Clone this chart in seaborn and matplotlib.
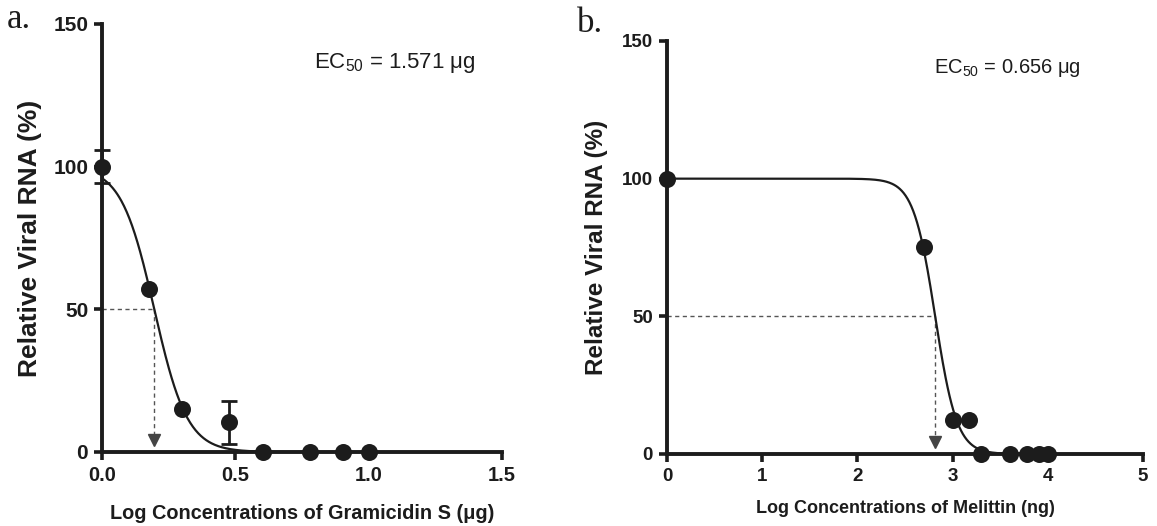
import numpy as np
import pandas as pd
import matplotlib
matplotlib.use("Agg")
import matplotlib.pyplot as plt
import seaborn as sns

# Panel a: Gramicidin S
a_logconc = [0.0, 0.176, 0.301, 0.477, 0.602, 0.778, 0.903, 1.0]
a_rna = [100.0, 57.2, 15.0, 10.4, 0.0, 0.0, 0.0, 0.0]
a_err = [5.8, 0.0, 0.0, 7.6, 0.0, 0.0, 0.0, 0.0]
# fitted dose-response curve (top, bottom, logEC50, hill)
a_fit = (100.0, 0.0, 0.196, 7.0)
a_ec50_text = "EC$_{50}$ = 1.571 \u03bcg"

# Panel b: Melittin
b_logconc = [0.0, 2.699, 3.0, 3.176, 3.301, 3.602, 3.778, 3.903, 4.0]
b_rna = [100.0, 75.0, 12.2, 12.2, 0.0, 0.0, 0.0, 0.0, 0.0]
b_fit = (100.0, 0.0, 2.817, 3.8)
b_ec50_text = "EC$_{50}$ = 0.656 \u03bcg"

sns.set_style("ticks")
plt.rcParams['font.family'] = ['Liberation Sans', 'DejaVu Sans']
plt.rcParams['mathtext.fontset'] = 'custom'
plt.rcParams['mathtext.rm'] = 'Liberation Sans'
plt.rcParams['mathtext.it'] = 'Liberation Sans:italic'

INK = "#1c1c1c"
DASH = "#555555"


def curve(x, fit):
    top, bottom, logec, hill = fit
    return bottom + (top - bottom) / (1 + 10 ** ((x - logec) * hill))


def style_axes(ax, xlim, xticks, xfmt, tick_fs_x, tick_fs_y):
    ax.set_xlim(*xlim)
    ax.set_ylim(0, 150)
    ax.set_xticks(xticks)
    ax.set_xticklabels([xfmt.format(t) for t in xticks], fontweight="bold", fontsize=tick_fs_x)
    ax.set_yticks([0, 50, 100, 150])
    ax.set_yticklabels(["0", "50", "100", "150"], fontweight="bold", fontsize=tick_fs_y)
    for s in ["top", "right"]:
        ax.spines[s].set_visible(False)
    for s in ["left", "bottom"]:
        ax.spines[s].set_linewidth(2.8)
        ax.spines[s].set_color(INK)
    ax.tick_params(axis="both", length=6, width=2.6, color=INK, labelcolor=INK, pad=4)
    ax.set_facecolor("white")


def draw_panel(ax, x, y, fit, xmax, err=None):
    xs = np.linspace(0, xmax, 400)
    df_curve = pd.DataFrame({"x": xs, "y": curve(xs, fit)})
    sns.lineplot(data=df_curve, x="x", y="y", ax=ax, color=INK, lw=1.6, zorder=3)
    df = pd.DataFrame({"x": x, "y": y})
    if err is not None:
        e = np.array(err)
        m = e > 0
        ax.errorbar(np.array(x)[m], np.array(y)[m], yerr=e[m], fmt="none", ecolor=INK,
                    elinewidth=2.0, capsize=5.5, capthick=2.0, zorder=4, clip_on=False)
    sns.scatterplot(data=df, x="x", y="y", ax=ax, color=INK, s=150, edgecolor=INK,
                    linewidth=0, zorder=5, clip_on=False, legend=False)
    logec = fit[2]
    ax.plot([0, logec], [50, 50], ls=(0, (3, 2.5)), color=DASH, lw=1.0, zorder=2)
    ax.plot([logec, logec], [50, 6], ls=(0, (3, 2.5)), color=DASH, lw=1.0, zorder=2)
    ax.plot([logec], [4.3], marker="v", ms=9, color="#444444", mec="#444444", zorder=2)


fig = plt.figure(figsize=(11.57, 5.26), dpi=100)
ax_a = fig.add_axes([0.0882, 0.1407, 0.3457, 0.8137])
ax_b = fig.add_axes([0.5765, 0.1369, 0.4114, 0.7852])

draw_panel(ax_a, a_logconc, a_rna, a_fit, 1.0, err=a_err)
style_axes(ax_a, (0, 1.5), [0.0, 0.5, 1.0, 1.5], "{:.1f}", 14.5, 15)
ax_a.set_xlabel("Log Concentrations of Gramicidin S (\u03bcg)", fontweight="bold", fontsize=14.3,
                color=INK, labelpad=14)
ax_a.set_ylabel("Relative Viral RNA (%)", fontweight="bold", fontsize=19, color=INK, labelpad=8)
ax_a.text(0.53, 0.91, a_ec50_text, transform=ax_a.transAxes, fontsize=16, color=INK, va="center")

draw_panel(ax_b, b_logconc, b_rna, b_fit, 4.0)
style_axes(ax_b, (0, 5), [0, 1, 2, 3, 4, 5], "{:d}", 13.5, 13.5)
ax_b.set_xlabel("Log Concentrations of Melittin (ng)", fontweight="bold", fontsize=13,
                color=INK, labelpad=11)
ax_b.set_ylabel("Relative Viral RNA (%)", fontweight="bold", fontsize=17.5, color=INK, labelpad=10)
ax_b.text(0.56, 0.935, b_ec50_text, transform=ax_b.transAxes, fontsize=14.5, color=INK, va="center")

fig.text(0.006, 0.962, "a.", family="Liberation Serif", fontsize=25, color=INK, va="center")
fig.text(0.499, 0.955, "b.", family="Liberation Serif", fontsize=25, color=INK, va="center")

fig.savefig("out.png", dpi=100, facecolor="white")
